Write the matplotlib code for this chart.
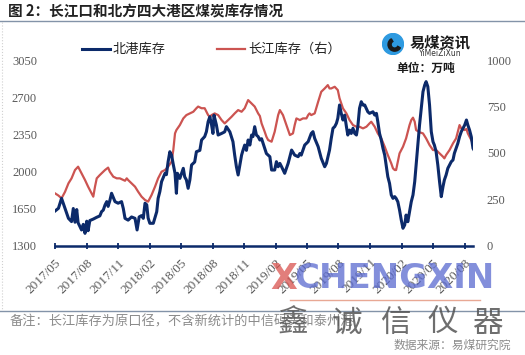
import matplotlib
matplotlib.use("Agg")
import pandas as pd
import matplotlib.pyplot as plt
import matplotlib.dates as mdates
from matplotlib.lines import Line2D
from matplotlib.patches import Circle, Wedge

# 北港库存 (left axis)
north_dates = [
    "2017-05-01", "2017-05-11", "2017-05-20", "2017-05-30", "2017-06-09", "2017-06-18", "2017-06-23",
    "2017-06-28", "2017-07-03", "2017-07-07", "2017-07-17", "2017-07-22", "2017-07-27", "2017-08-01",
    "2017-08-05", "2017-08-10", "2017-08-20", "2017-08-30", "2017-09-08", "2017-09-13", "2017-09-18",
    "2017-09-23", "2017-09-28", "2017-10-02", "2017-10-07", "2017-10-12", "2017-10-22", "2017-10-31",
    "2017-11-10", "2017-11-15", "2017-11-20", "2017-11-29", "2017-12-09", "2017-12-19", "2017-12-25",
    "2017-12-31", "2018-01-07", "2018-01-12", "2018-01-17", "2018-01-22", "2018-01-26", "2018-01-31",
    "2018-02-10", "2018-02-20", "2018-02-24", "2018-03-01", "2018-03-06", "2018-03-16", "2018-03-20",
    "2018-03-25", "2018-03-30", "2018-04-04", "2018-04-09", "2018-04-14", "2018-04-18", "2018-04-21",
    "2018-04-28", "2018-05-03", "2018-05-08", "2018-05-12", "2018-05-17", "2018-05-22", "2018-05-27",
    "2018-06-01", "2018-06-10", "2018-06-15", "2018-06-25", "2018-06-30", "2018-07-09", "2018-07-14",
    "2018-07-19", "2018-07-24", "2018-07-29", "2018-08-02", "2018-08-05", "2018-08-12", "2018-08-17",
    "2018-08-27", "2018-09-05", "2018-09-10", "2018-09-20", "2018-09-29", "2018-10-04", "2018-10-09",
    "2018-10-14", "2018-10-19", "2018-10-24", "2018-10-28", "2018-11-02", "2018-11-07", "2018-11-12",
    "2018-11-17", "2018-11-22", "2018-11-26", "2018-12-01", "2018-12-06", "2018-12-11", "2018-12-16",
    "2018-12-21", "2018-12-30", "2019-01-04", "2019-01-14", "2019-01-19", "2019-01-28", "2019-02-02",
    "2019-02-07", "2019-02-12", "2019-02-17", "2019-02-26", "2019-03-08", "2019-03-18", "2019-03-27",
    "2019-04-06", "2019-04-11", "2019-04-15", "2019-04-20", "2019-04-25", "2019-05-05", "2019-05-14",
    "2019-05-19", "2019-05-24", "2019-06-03", "2019-06-12", "2019-06-22", "2019-06-27", "2019-07-06",
    "2019-07-11", "2019-07-16", "2019-07-21", "2019-07-26", "2019-07-30", "2019-08-04", "2019-08-09",
    "2019-08-14", "2019-08-19", "2019-08-24", "2019-08-28", "2019-09-02", "2019-09-07", "2019-09-12",
    "2019-09-17", "2019-09-22", "2019-09-26", "2019-10-01", "2019-10-06", "2019-10-11", "2019-10-16",
    "2019-10-25", "2019-10-30", "2019-11-09", "2019-11-14", "2019-11-19", "2019-11-23", "2019-11-28",
    "2019-12-03", "2019-12-08", "2019-12-13", "2019-12-17", "2019-12-22", "2019-12-27", "2020-01-01",
    "2020-01-06", "2020-01-11", "2020-01-15", "2020-01-20", "2020-01-25", "2020-01-30", "2020-02-04",
    "2020-02-09", "2020-02-13", "2020-02-18", "2020-02-23", "2020-02-28", "2020-03-04", "2020-03-09",
    "2020-03-13", "2020-03-18", "2020-03-23", "2020-03-28", "2020-04-02", "2020-04-07", "2020-04-11",
    "2020-04-16", "2020-04-21", "2020-04-26", "2020-05-01", "2020-05-05", "2020-05-10", "2020-05-15",
    "2020-05-20", "2020-05-25", "2020-05-30", "2020-06-03", "2020-06-08", "2020-06-13", "2020-06-18",
    "2020-06-23", "2020-06-28", "2020-07-02", "2020-07-07", "2020-07-12", "2020-07-17", "2020-07-22",
    "2020-07-27", "2020-08-01", "2020-08-06", "2020-08-10", "2020-08-15", "2020-08-20", "2020-08-25",
    "2020-08-28",
]
north_stock = [
    1626, 1652, 1746, 1652, 1557, 1526, 1650,
    1520, 1640, 1515, 1447, 1500, 1415, 1530,
    1440, 1536, 1550, 1567, 1580, 1620, 1635,
    1683, 1715, 1670, 1725, 1794, 1715, 1700,
    1715, 1650, 1557, 1540, 1570, 1557, 1447,
    1570, 1583, 1557, 1700, 1685, 1560, 1510,
    1510, 1620, 1746, 1810, 1904, 1983, 1970,
    2093, 2187, 2155, 2065, 1983, 1794, 1983,
    1935, 1983, 2030, 1950, 1920, 1841, 1920,
    2062, 2090, 2187, 2200, 2298, 2330, 2377,
    2471, 2518, 2440, 2360, 2533, 2440, 2345,
    2360, 2375, 2424, 2375, 2282, 2155, 2045,
    1967, 2060, 2155, 2200, 2250, 2200, 2298,
    2250, 2345, 2330, 2424, 2345, 2330, 2298,
    2310, 2219, 2170, 2140, 2014, 2014, 2093,
    2045, 2077, 2045, 1983, 2077, 2203, 2155,
    2140, 2170, 2155, 2203, 2250, 2282, 2360,
    2377, 2313, 2235, 2125, 2045, 2077, 2203,
    2313, 2409, 2424, 2456, 2503, 2629, 2550,
    2487, 2533, 2424, 2345, 2392, 2360, 2409,
    2360, 2345, 2424, 2598, 2660, 2629, 2629,
    2565, 2550, 2565, 2534, 2550, 2471, 2360,
    2298, 2219, 2155, 2061, 1951, 1888, 1778,
    1746, 1762, 1746, 1714, 1636, 1541, 1463,
    1494, 1588, 1525, 1620, 1714, 1778, 1904,
    2061, 2250, 2440, 2598, 2755, 2818, 2850,
    2803, 2629, 2377, 2282, 2250, 2188, 2061,
    1904, 1762, 1857, 1920, 1967, 2030, 2061,
    2093, 2109, 2172, 2219, 2266, 2329, 2377,
    2409, 2440, 2487, 2440, 2392, 2329, 2219,
    2203,
]

# 长江库存 (right axis)
yangtze_dates = [
    "2017-05-01", "2017-05-11", "2017-05-20", "2017-05-30", "2017-06-09", "2017-06-18", "2017-06-28",
    "2017-07-07", "2017-07-17", "2017-07-27", "2017-08-05", "2017-08-15", "2017-08-20", "2017-08-25",
    "2017-08-30", "2017-09-08", "2017-09-18", "2017-09-23", "2017-10-02", "2017-10-07", "2017-10-17",
    "2017-10-27", "2017-11-05", "2017-11-15", "2017-11-20", "2017-11-25", "2017-11-29", "2017-12-09",
    "2017-12-19", "2017-12-28", "2018-01-07", "2018-01-17", "2018-01-26", "2018-02-05", "2018-02-15",
    "2018-02-24", "2018-03-06", "2018-03-16", "2018-03-25", "2018-04-04", "2018-04-09", "2018-04-14",
    "2018-04-18", "2018-04-28", "2018-05-08", "2018-05-17", "2018-05-27", "2018-06-06", "2018-06-15",
    "2018-06-20", "2018-06-30", "2018-07-09", "2018-07-14", "2018-07-19", "2018-07-24", "2018-07-29",
    "2018-08-07", "2018-08-17", "2018-08-27", "2018-09-05", "2018-09-15", "2018-09-25", "2018-10-04",
    "2018-10-14", "2018-10-24", "2018-11-02", "2018-11-12", "2018-11-22", "2018-12-01", "2018-12-11",
    "2018-12-16", "2018-12-21", "2018-12-30", "2019-01-04", "2019-01-09", "2019-01-19", "2019-01-28",
    "2019-02-07", "2019-02-12", "2019-02-21", "2019-03-03", "2019-03-13", "2019-03-22", "2019-03-27",
    "2019-04-01", "2019-04-11", "2019-04-20", "2019-04-30", "2019-05-05", "2019-05-09", "2019-05-14",
    "2019-05-24", "2019-06-03", "2019-06-12", "2019-06-22", "2019-07-01", "2019-07-06", "2019-07-11",
    "2019-07-21", "2019-07-30", "2019-08-04", "2019-08-14", "2019-08-24", "2019-09-02", "2019-09-12",
    "2019-09-22", "2019-10-01", "2019-10-11", "2019-10-21", "2019-10-30", "2019-11-04", "2019-11-14",
    "2019-11-23", "2019-12-03", "2019-12-13", "2019-12-22", "2020-01-01", "2020-01-06", "2020-01-11",
    "2020-01-15", "2020-01-20", "2020-01-25", "2020-02-04", "2020-02-13", "2020-02-23", "2020-02-28",
    "2020-03-04", "2020-03-09", "2020-03-13", "2020-03-23", "2020-04-02", "2020-04-11", "2020-04-21",
    "2020-05-01", "2020-05-10", "2020-05-20", "2020-05-30", "2020-06-03", "2020-06-08", "2020-06-18",
    "2020-06-28", "2020-07-07", "2020-07-17", "2020-07-22", "2020-08-01", "2020-08-06", "2020-08-10",
    "2020-08-20", "2020-08-28",
]
yangtze_stock = [
    282, 270, 255, 290, 336, 363, 408,
    426, 390, 354, 318, 282, 264, 318,
    363, 381, 399, 408, 421, 399, 372,
    363, 363, 354, 350, 363, 354, 336,
    318, 291, 264, 246, 237, 273, 318,
    363, 399, 408, 426, 453, 516, 606,
    624, 651, 687, 705, 714, 723, 742,
    751, 742, 742, 723, 705, 696, 705,
    714, 705, 678, 660, 678, 696, 714,
    732, 723, 742, 786, 768, 751, 714,
    700, 660, 615, 588, 570, 561, 615,
    705, 732, 705, 651, 597, 606, 651,
    687, 678, 687, 687, 705, 714, 705,
    714, 777, 831, 849, 867, 849, 849,
    858, 840, 796, 741, 714, 678, 651,
    642, 642, 633, 642, 660, 669, 642,
    606, 579, 534, 489, 444, 417, 408,
    408, 453, 498, 534, 579, 651, 678,
    691, 669, 624, 612, 606, 579, 543,
    516, 516, 498, 480, 471, 489, 516,
    552, 579, 651, 633, 624, 630, 606,
    570, 543,
]

tick_months = ["2017-05-01", "2017-08-01", "2017-11-01", "2018-02-01", "2018-05-01", "2018-08-01",
               "2018-11-01", "2019-02-01", "2019-05-01", "2019-08-01", "2019-11-01", "2020-02-01",
               "2020-05-01", "2020-08-01"]
left_ticks = [1300, 1650, 2000, 2350, 2700, 3050]
right_ticks = [0, 250, 500, 750, 1000]

BLUE = "#0c2a6a"
RED = "#cc5451"
GRAY = "#595959"
CJK = ["Noto Sans CJK SC", "DejaVu Sans"]
SERIF = "Liberation Serif"

W, H = 525, 355
fig = plt.figure(figsize=(W / 100, H / 100), dpi=100)


def fx(px):
    return px / W


def fy(py):
    return 1 - py / H


ax = fig.add_axes([fx(55), fy(245.5), fx(473 - 55), (245.5 - 60.5) / H])
ax2 = ax.twinx()

nd = pd.to_datetime(north_dates)
yd = pd.to_datetime(yangtze_dates)
ax2.plot(yd, yangtze_stock, color=RED, lw=1.6, zorder=2)
ax.plot(nd, north_stock, color=BLUE, lw=2.2, zorder=3)
ax.set_zorder(ax2.get_zorder() + 1)
ax.patch.set_visible(False)

ax.set_xlim(pd.Timestamp("2017-05-01"), pd.Timestamp("2020-08-25"))
ax.set_ylim(1300, 3050)
ax2.set_ylim(0, 1000)
ax.set_yticks(left_ticks)
ax2.set_yticks(right_ticks)
ax.set_xticks(pd.to_datetime(tick_months))
ax.xaxis.set_major_formatter(mdates.DateFormatter("%Y/%m"))

for a in (ax, ax2):
    for s in ("top", "left", "right", "bottom"):
        a.spines[s].set_visible(False)
ax.spines["bottom"].set_visible(True)
ax.spines["bottom"].set_color(BLUE)
ax.spines["bottom"].set_linewidth(1.8)

ax.tick_params(axis="y", length=0, pad=13, labelsize=9, labelcolor=GRAY)
ax2.tick_params(axis="y", length=0, pad=10, labelsize=9, labelcolor=GRAY)
ax.tick_params(axis="x", direction="inout", length=4, width=1.3, color=BLUE, pad=6,
               labelsize=9.5, labelcolor=GRAY)
for lab in ax.get_xticklabels():
    lab.set_rotation(45)
    lab.set_ha("right")
    lab.set_va("top")
    lab.set_rotation_mode("anchor")
for lab in ax.get_yticklabels() + ax2.get_yticklabels() + ax.get_xticklabels():
    lab.set_fontfamily(SERIF)

# title and frame lines
fig.text(fx(8), fy(11), "图 2：长江口和北方四大港区煤炭库存情况", fontsize=10.5,
         fontweight="bold", family=CJK, color="#222222", va="center")
fig.add_artist(Line2D([0, 1], [fy(20.5), fy(20.5)], color="#8393a8", lw=1))
fig.add_artist(Line2D([0, 1], [fy(310.5), fy(310.5)], color="#8393a8", lw=1))
fig.add_artist(Line2D([fx(2), fx(2)], [fy(22), fy(309)], color="#d0d0d0", lw=0.8, ls=":"))

# legend
fig.add_artist(Line2D([fx(82), fx(110)], [fy(49), fy(49)], color=BLUE, lw=2.2))
fig.text(fx(113), fy(49), "北港库存", fontsize=9.5, family=CJK, color="#222222", va="center")
fig.add_artist(Line2D([fx(217), fx(245)], [fy(49), fy(49)], color=RED, lw=1.6))
fig.text(fx(248), fy(49), "长江库存（右）", fontsize=9.5, family=CJK, color="#222222", va="center")

# logo and unit
lg = fig.add_axes([fx(382), fy(55), fx(22), 22 / H])
lg.set_xlim(-1, 1)
lg.set_ylim(-1, 1)
lg.set_aspect("equal")
lg.axis("off")
lg.add_patch(Circle((0, 0), 0.95, color="#2e9ae0"))
lg.add_patch(Wedge((0.15, -0.05), 0.6, 120, 330, width=0.28, color="#1a1a1a"))
fig.text(fx(410), fy(42), "易煤资讯", fontsize=11, fontweight="bold", family=CJK,
         color="#1a1a1a", va="center")
fig.text(fx(440), fy(53.5), "YiMeiZiXun", fontsize=5.5, color="#333333", va="center",
         ha="center", family="DejaVu Sans")
fig.text(fx(426), fy(68), "单位：万吨", fontsize=8.5, fontweight="bold", family=CJK,
         color="#1a1a1a", va="center", ha="center")

# footer
fig.text(fx(10), fy(322), "备注：长江库存为原口径，不含新统计的中信码头和泰州港", fontsize=9.5,
         family=CJK, color="#8c8c8c", va="center")
fig.text(fx(511), fy(345), "数据来源：易煤研究院", fontsize=8.5, family=CJK,
         color="#8c8c8c", va="center", ha="right")

# watermark
fig.text(fx(270), fy(279), "X", fontsize=25, fontweight="bold", color="#d9534f", alpha=0.75,
         va="center", family="DejaVu Sans")
fig.text(fx(294), fy(279), "CHENGXIN", fontsize=24.5, fontweight="bold", color="#5a6ad0",
         alpha=0.75, va="center", family="DejaVu Sans")
fig.add_artist(Line2D([fx(290), fx(480)], [fy(300), fy(300)], color="#e8a894", lw=1))
for ch, cx in zip("鑫诚信仪器", [293, 347, 395, 443, 487]):
    fig.text(fx(cx), fy(323), ch, fontsize=22, family=CJK, color="#555555", alpha=0.85,
             ha="center", va="center")

fig.savefig("out.png", dpi=100)
